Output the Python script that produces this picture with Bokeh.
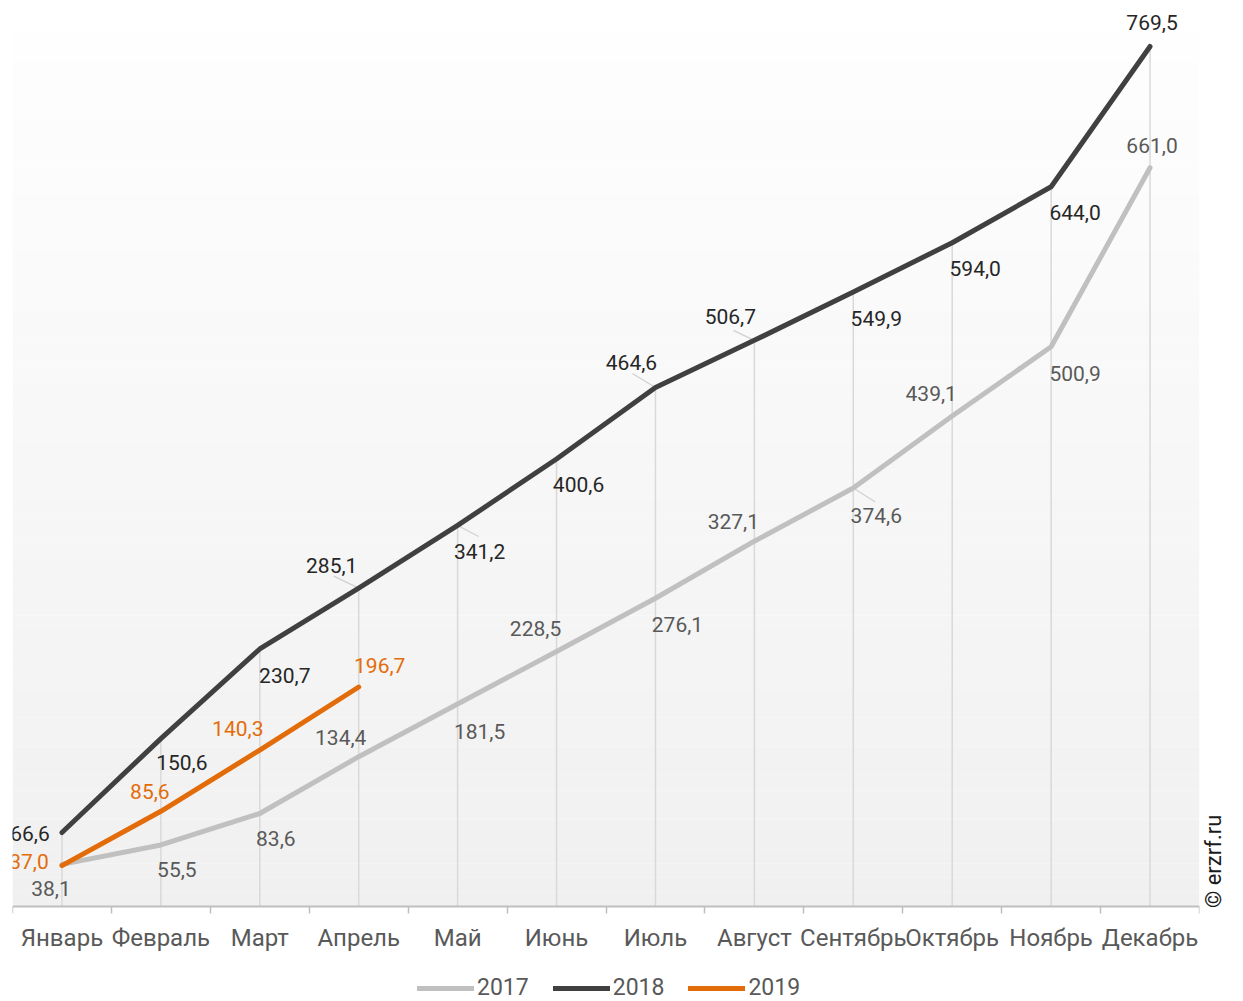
import numpy as np
from bokeh.plotting import figure
from bokeh.models import (ColumnDataSource, FixedTicker, Legend, LegendItem, Range1d, LinearAxis)
from bokeh.core.properties import value
from bokeh.embed import file_html
from bokeh.resources import INLINE

# ---------------- data ----------------
months = ["Январь", "Февраль", "Март", "Апрель", "Май", "Июнь",
          "Июль", "Август", "Сентябрь", "Октябрь", "Ноябрь", "Декабрь"]
series_names = ["2017", "2018", "2019"]
values_2017 = [38.1, 55.5, 83.6, 134.4, 181.5, 228.5, 276.1, 327.1, 374.6, 439.1, 500.9, 661.0]
values_2018 = [66.6, 150.6, 230.7, 285.1, 341.2, 400.6, 464.6, 506.7, 549.9, 594.0, 644.0, 769.5]
values_2019 = [37.0, 85.6, 140.3, 196.7]
copyright_text = "© erzrf.ru"

# ---------------- styles ----------------
colors = {"2017": "#c0c0c0", "2018": "#404040", "2019": "#e36c0a"}
label_colors = {"2017": "#595959", "2018": "#262626", "2019": "#e36c0a"}
# label offsets in screen pixels (dx, dy; dy positive = downwards)
offsets = {
    "2017": [(-11, 24), (16, 25), (16, 25), (-18, -19), (22, 27), (-21, -23),
             (22, 26), (-21, -20), (23, 27), (-21, -22), (24, 27), (2, -22)],
    "2018": [(-32, 1), (21, 24), (25, 27), (-27, -23), (22, 26), (22, 26),
             (-24, -25), (-24, -24), (23, 26), (23, 26), (24, 26), (2, -24)],
    "2019": [(-33, -4), (-11, -20), (-22, -22), (21, -22)],
}
# short leader lines: (series, month index, dx px, dy px down)
leaders = [("2018", 3, -25, -12), ("2018", 4, 21, 11), ("2018", 6, -23, -14),
           ("2018", 7, -21, -10), ("2017", 8, 22, 14)]
FONT = "Roboto"

x_all = list(range(len(months)))
n = len(months)
px_per_unit = 1.11823
px_per_month = 98.92
grad_top = 782          # top of the shaded plot area (value units)
y_end = 807
y_start = -(1001 - 906.5) / px_per_unit   # room below the axis for labels and legend

p = figure(width=1243, height=1001, output_backend="svg", toolbar_location=None,
           x_range=Range1d(-0.5, n - 0.5), y_range=Range1d(y_start, y_end),
           min_border_left=12, min_border_right=44, min_border_top=4, min_border_bottom=0,
           outline_line_color=None, background_fill_color="white", border_fill_color="white")
p.yaxis.visible = False
p.xgrid.visible = False
p.ygrid.visible = False

# gradient background (decoration)
n_bands = 60
edges = np.linspace(0, grad_top, n_bands + 1)
c_bot = np.array([240, 240, 240])
c_top = np.array([254, 254, 254])
band_colors = []
for i in range(n_bands):
    t = (i + 0.5) / n_bands
    c = (c_bot + (c_top - c_bot) * t).round().astype(int)
    band_colors.append("#%02x%02x%02x" % tuple(c))
p.quad(left=-0.5, right=n - 0.5, bottom=edges[:-1], top=edges[1:],
       fill_color=band_colors, line_color=None)

data = {"2017": values_2017, "2018": values_2018, "2019": values_2019}

# drop lines
drop_top = [max(a, b) for a, b in zip(values_2017, values_2018)]
p.segment(x0=x_all, y0=[0] * n, x1=x_all, y1=drop_top,
          line_color="#d9d9d9", line_width=1.5)

# leader lines
lx0, ly0, lx1, ly1 = [], [], [], []
for s, i, dx, dy in leaders:
    lx0.append(x_all[i]); ly0.append(data[s][i])
    lx1.append(x_all[i] + dx / px_per_month); ly1.append(data[s][i] - dy / px_per_unit)
p.segment(x0=lx0, y0=ly0, x1=lx1, y1=ly1, line_color="#d0d0d0", line_width=1.2)

# lines
renderers = {}
for name in series_names:
    vals = data[name]
    xs = x_all[:len(vals)]
    renderers[name] = p.line(xs, vals, line_color=colors[name], line_width=5,
                             line_cap="round", line_join="round")

# labels
for name in series_names:
    vals = data[name]
    xs = x_all[:len(vals)]
    src = ColumnDataSource(dict(
        x=xs, y=vals,
        text=[f"{v:.1f}".replace(".", ",") for v in vals],
        dx=[o[0] for o in offsets[name]],
        dy=[o[1] for o in offsets[name]],
    ))
    p.text(x="x", y="y", text="text", x_offset="dx", y_offset="dy", source=src,
           text_font=value(FONT), text_font_size="21px", text_color=label_colors[name],
           text_align="center", text_baseline="middle")

# x axis, drawn at value 0 inside the frame
ax = p.xaxis[0]
ax.fixed_location = 0
ax.ticker = FixedTicker(ticks=x_all, minor_ticks=[i - 0.5 for i in range(n + 1)])
ax.major_label_overrides = {i: m for i, m in zip(x_all, months)}
ax.major_tick_out = 0
ax.major_tick_in = 0
ax.minor_tick_out = 7
ax.minor_tick_in = 0
ax.minor_tick_line_color = "#bfbfbf"
ax.minor_tick_line_width = 1.5
ax.axis_line_color = "#bfbfbf"
ax.axis_line_width = 2
ax.major_label_text_font = FONT
ax.major_label_text_font_size = "24px"
ax.major_label_text_color = "#595959"
ax.major_label_standoff = 10

# copyright as a rotated label on an otherwise invisible right axis
cr_pos = -1
rax = LinearAxis(ticker=FixedTicker(ticks=[cr_pos]),
                 major_label_overrides={cr_pos: copyright_text},
                 major_label_orientation=np.pi / 2,
                 axis_line_color=None, major_tick_line_color=None, minor_tick_line_color=None,
                 major_tick_in=0, major_tick_out=0, major_label_standoff=14,
                 major_label_text_font=FONT, major_label_text_font_size="22px",
                 major_label_text_color="#1a1a1a")
p.add_layout(rax, "right")

# legend
legend = Legend(items=[LegendItem(label=nm, renderers=[renderers[nm]]) for nm in series_names],
                orientation="horizontal", location=(405, 0),
                glyph_width=57, glyph_height=24, label_standoff=3, spacing=24,
                padding=0, margin=0, border_line_color=None, background_fill_alpha=0,
                label_text_font=FONT, label_text_font_size="23px", label_text_color="#595959",
                label_height=22)
p.add_layout(legend, "center")

open("out.html", "w").write(file_html(p, INLINE))
